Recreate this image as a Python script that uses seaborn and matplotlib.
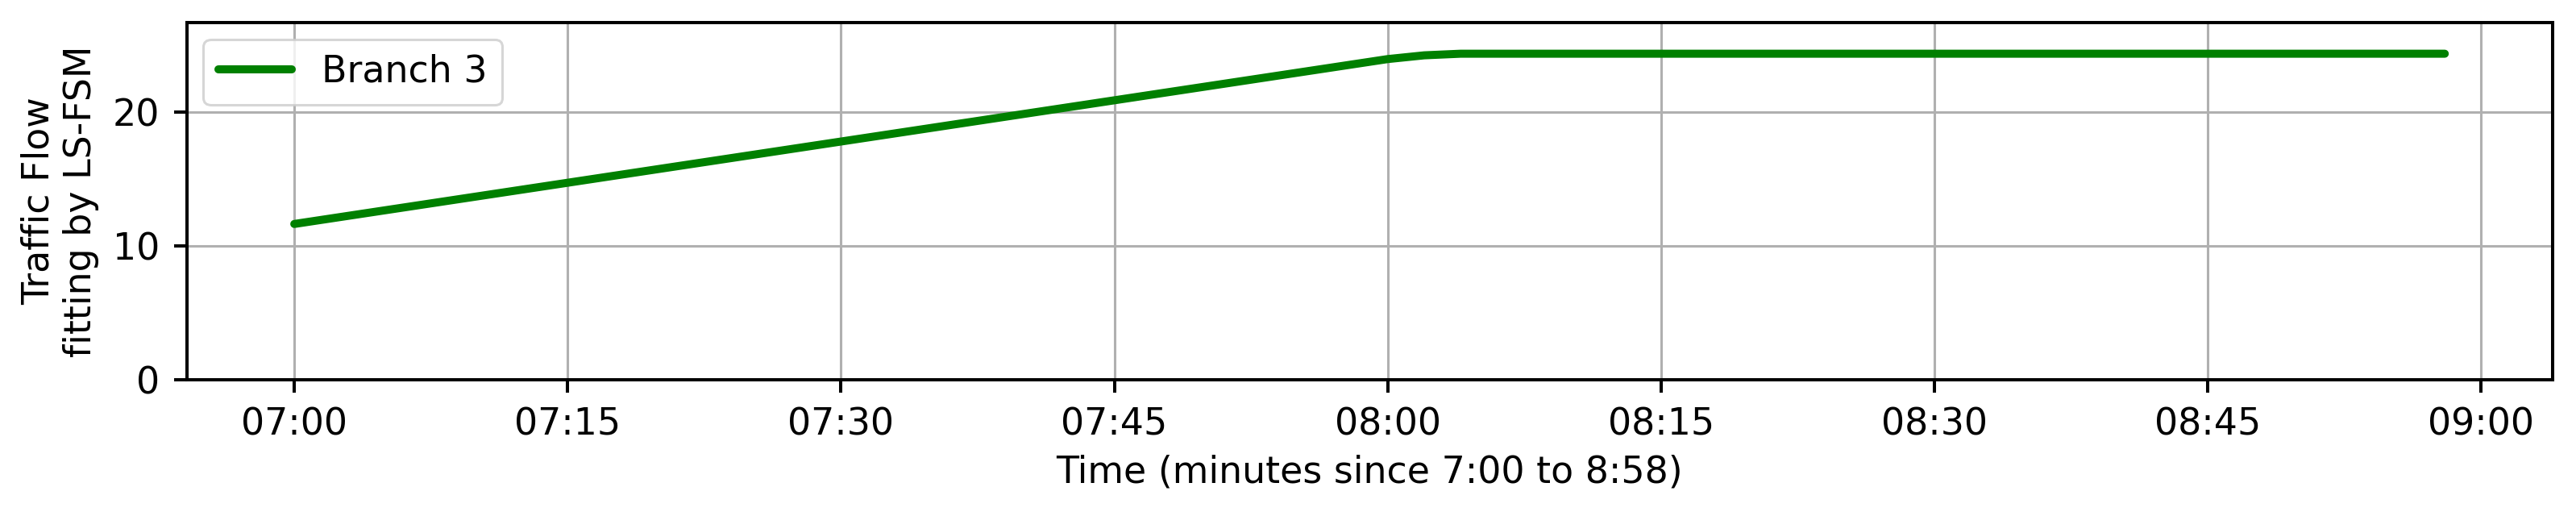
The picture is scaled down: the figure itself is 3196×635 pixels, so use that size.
"""
Traffic flow of branch 3 fitted by LS-FSM, 7:00 to 8:58.
"""

import pandas as pd
import matplotlib
matplotlib.use("Agg")
import matplotlib.pyplot as plt
import matplotlib.dates as mdates
import seaborn as sns

# minutes after 07:00 and fitted flow values
minutes = [0, 60, 62, 64, 118]
flow = [11.65, 23.97, 24.25, 24.37, 24.37]
series_label = "Branch 3"

start = pd.Timestamp("2024-01-01 07:00")
df = pd.DataFrame({
    "time": [start + pd.Timedelta(minutes=m) for m in minutes],
    "flow": flow,
})

sns.set_style("ticks")
plt.rcParams["font.family"] = ["DejaVu Sans"]
plt.rcParams["font.size"] = 33
plt.rcParams["text.color"] = "black"
plt.rcParams["axes.labelcolor"] = "black"

fig = plt.figure(figsize=(31.96, 6.35), dpi=100)
ax = fig.add_axes([0.0725, 0.258, 0.9183, 0.698])

sns.lineplot(data=df, x="time", y="flow", color="green", linewidth=7.2,
             label=series_label, ax=ax)

ax.set_ylim(0, 26.7)
ax.set_yticks([0, 10, 20])
ax.xaxis.set_major_locator(mdates.MinuteLocator(byminute=[0, 15, 30, 45]))
ax.xaxis.set_major_formatter(mdates.DateFormatter("%H:%M"))
ax.grid(True, color="#b0b0b0", linewidth=2.2)

for side in ax.spines.values():
    side.set_linewidth(2.9)
    side.set_color("black")
ax.tick_params(axis="both", length=11.3, width=2.9, pad=13, labelsize=33,
               colors="black")

ax.set_xlabel("Time (minutes since 7:00 to 8:58)", fontsize=33, labelpad=10)
ax.set_ylabel("Traffic Flow\nfitting by LS-FSM", fontsize=33, labelpad=12)

leg = ax.legend(loc="upper left", fontsize=33, frameon=True, fancybox=True,
                handlelength=2.0, borderpad=0.4, borderaxespad=0.45)
leg.get_frame().set_edgecolor("#cccccc")
leg.get_frame().set_linewidth(2.2)

fig.savefig("out.png", dpi=100)
